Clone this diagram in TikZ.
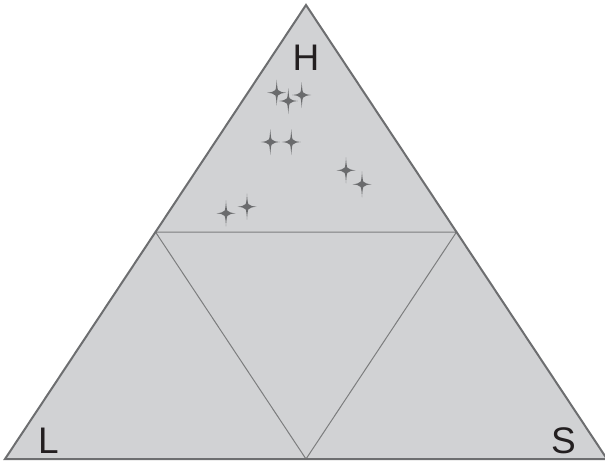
\documentclass[tikz,border=0pt]{standalone}
\usepackage{fontspec}
\setmainfont{Liberation Sans}
\usetikzlibrary{calc}
\definecolor{fillgray}{HTML}{D1D2D4}
\definecolor{linegray}{HTML}{6D6E70}
\definecolor{stargray}{HTML}{6A6B6D}
\definecolor{textdark}{HTML}{231F20}
\tikzset{
  outer/.style={draw=linegray, line width=2pt, line join=miter},
  inner/.style={draw=linegray!90, line width=1pt},
  lbl/.style={text=textdark, font=\fontsize{37}{37}\selectfont, inner sep=0pt, anchor=base},
  sparkle/.pic={\fill[stargray] (0,-13) .. controls (0.6,-4) and (1,-2) .. (2.2,-2.2) .. controls (3,-1) and (5,-0.5) .. (9.5,0) .. controls (5,0.5) and (3,1) .. (2.2,2.2) .. controls (1,2) and (0.6,4) .. (0,13) .. controls (-0.6,4) and (-1,2) .. (-2.2,2.2) .. controls (-3,1) and (-5,0.5) .. (-9.5,0) .. controls (-5,-0.5) and (-3,-1) .. (-2.2,-2.2) .. controls (-1,-2) and (-0.6,-4) .. cycle;}
}
\begin{document}
\begin{tikzpicture}[x=1pt,y=-1pt]
\useasboundingbox (0,0) rectangle (605,461);
\coordinate (top) at (306,5);
\coordinate (bl) at (5,459);
\coordinate (br) at (607,459);
\coordinate (ml) at ($(top)!0.5!(bl)$);
\coordinate (mr) at ($(top)!0.5!(br)$);
\coordinate (mb) at ($(bl)!0.5!(br)$);
\fill[fillgray] (top) -- (bl) -- (br) -- cycle;
\draw[inner] (ml) -- (mr) -- (mb) -- cycle;
\draw[outer] (top) -- (bl) -- (br) -- cycle;
\foreach \x/\y in {276.7/92.7, 288.3/101, 301.7/95, 270.3/142, 291.3/142, 346/170.3, 362/184.3, 226/213.3, 247/206.7}
  \pic at (\x,\y) {sparkle};
\node[lbl] (H) at (306,70) {H};
\node[lbl] (L) at (48.5,453) {L};
\node[lbl] (S) at (563.5,453) {S};
\end{tikzpicture}
\end{document}
